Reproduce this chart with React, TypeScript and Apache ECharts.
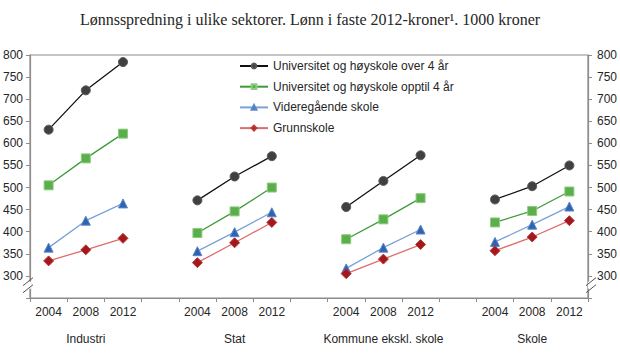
import React, { useEffect, useRef } from "react";
import * as echarts from "echarts";

const TITLE = "Lønnsspredning i ulike sektorer. Lønn i faste 2012-kroner¹. 1000 kroner";
const years = ["2004", "2008", "2012", "", "2004", "2008", "2012", "", "2004", "2008", "2012", "", "2004", "2008", "2012"];
const groupLabels = ["", "Industri", "", "", "", "Stat", "", "", "", "Kommune ekskl. skole", "", "", "", "Skole", ""];
const seriesNames = [
  "Universitet og høyskole over 4 år",
  "Universitet og høyskole opptil 4 år",
  "Videregående skole",
  "Grunnskole",
];
// Industri, Stat, Kommune ekskl. skole, Skole (2004, 2008, 2012); null = gap
const uniOver4 = [631, 720, 784, null, 471, 525, 571, null, 456, 515, 573, null, 473, 503, 550];
const uniOpptil4 = [505, 566, 622, null, 397, 446, 500, null, 383, 428, 476, null, 421, 447, 491];
const videregaende = [364, 425, 464, null, 356, 399, 444, null, 317, 364, 405, null, 377, 416, 457];
const grunnskole = [334, 359, 385, null, 330, 375, 421, null, 305, 338, 371, null, 357, 388, 425];
const yTicks = { min: 250, max: 800, interval: 50 };

const GRID = { left: 28, right: 29, top: 55, bottom: 64 };
const AXIS_COLOR = "#8c8c8c";
const TEXT_COLOR = "#262626";
const FONT = "'Liberation Sans', Arial, sans-serif";

export default function App() {
  const ref = useRef<HTMLDivElement>(null);
  useEffect(() => {
    if (!ref.current) return;
    const chart = echarts.init(ref.current, null, { renderer: "svg" });
    const mk = (name: string, data: (number | null)[], lineColor: string, symbol: string, size: number, fill: string, border: string) => ({
      name,
      type: "line",
      data,
      xAxisIndex: 0,
      yAxisIndex: 0,
      symbol,
      symbolSize: size,
      showSymbol: true,
      connectNulls: false,
      lineStyle: { color: lineColor, width: 1.3 },
      itemStyle: { color: fill, borderColor: border, borderWidth: 1 },
      emphasis: { disabled: true },
    });
    const yAxisBase = {
      type: "value",
      min: yTicks.min,
      max: yTicks.max,
      interval: yTicks.interval,
      axisLine: { show: true, lineStyle: { color: AXIS_COLOR, width: 1.2 } },
      axisTick: { show: true, length: 4, lineStyle: { color: AXIS_COLOR } },
      splitLine: { show: false },
      axisLabel: {
        color: TEXT_COLOR,
        fontFamily: FONT,
        fontSize: 12,
        margin: 7,
        formatter: (v: number) => (v === yTicks.min ? "" : String(v)),
      },
    };
    const option: any = {
      animation: false,
      backgroundColor: "#ffffff",
      title: {
        text: TITLE,
        left: "center",
        top: 6,
        textStyle: { fontFamily: "'Liberation Serif', 'Times New Roman', serif", fontSize: 16, fontWeight: "normal", color: TEXT_COLOR },
      },
      legend: {
        orient: "vertical",
        left: 234,
        top: 55,
        itemWidth: 28,
        itemHeight: 6,
        itemGap: 8.7,
        textStyle: { fontFamily: FONT, fontSize: 12, color: TEXT_COLOR },
        data: seriesNames,
      },
      grid: { ...GRID, show: true, borderColor: AXIS_COLOR, borderWidth: 1.2, backgroundColor: "transparent" },
      xAxis: [
        {
          type: "category",
          data: years,
          position: "bottom",
          boundaryGap: true,
          axisLine: { show: true, lineStyle: { color: AXIS_COLOR, width: 1.2 } },
          axisTick: { show: true, length: 4, interval: 0, lineStyle: { color: AXIS_COLOR } },
          axisLabel: { interval: 0, color: TEXT_COLOR, fontFamily: FONT, fontSize: 12, margin: 8 },
          splitLine: { show: false },
        },
        {
          type: "category",
          data: groupLabels,
          position: "bottom",
          offset: 27,
          boundaryGap: true,
          axisLine: { show: false },
          axisTick: { show: false },
          axisLabel: { interval: 0, color: TEXT_COLOR, fontFamily: FONT, fontSize: 12, margin: 8 },
          splitLine: { show: false },
        },
      ],
      yAxis: [
        { ...yAxisBase, position: "left" },
        { ...yAxisBase, position: "right", axisLabel: { ...yAxisBase.axisLabel, margin: 9 } },
      ],
      series: [
        mk(seriesNames[0], uniOver4, "#111111", "circle", 9, "#404040", "#5a5a5a"),
        mk(seriesNames[1], uniOpptil4, "#3f9a3a", "rect", 9, "#5aae4c", "#8ccc7e"),
        mk(seriesNames[2], videregaende, "#7aa2d8", "triangle", 9, "#2e63b2", "#5b86c8"),
        mk(seriesNames[3], grunnskole, "#e06c6c", "diamond", 10, "#a3181c", "#b83a3a"),
      ],
    };
    chart.setOption(option);

    // axis-break marks placed using the axis scale
    const yA = chart.convertToPixel({ yAxisIndex: 0 }, 271) as number;
    const yB = chart.convertToPixel({ yAxisIndex: 0 }, 287) as number;
    const xL = GRID.left;
    const xR = 620 - GRID.right;
    const breakMark = (x: number) => [
      { type: "rect", shape: { x: x - 3, y: yB, width: 6, height: yA - yB }, style: { fill: "#ffffff" }, z: 100 },
      { type: "line", shape: { x1: x - 5, y1: yB + 4, x2: x + 5, y2: yB - 4 }, style: { stroke: "#555", lineWidth: 1 }, z: 101 },
      { type: "line", shape: { x1: x - 5, y1: yA + 4, x2: x + 5, y2: yA - 4 }, style: { stroke: "#555", lineWidth: 1 }, z: 101 },
    ];
    chart.setOption({ graphic: [...breakMark(xL), ...breakMark(xR)] });
    return () => chart.dispose();
  }, []);
  return <div ref={ref} style={{ position: "fixed", left: 0, top: 0, width: 620, height: 362 }} />;
}
